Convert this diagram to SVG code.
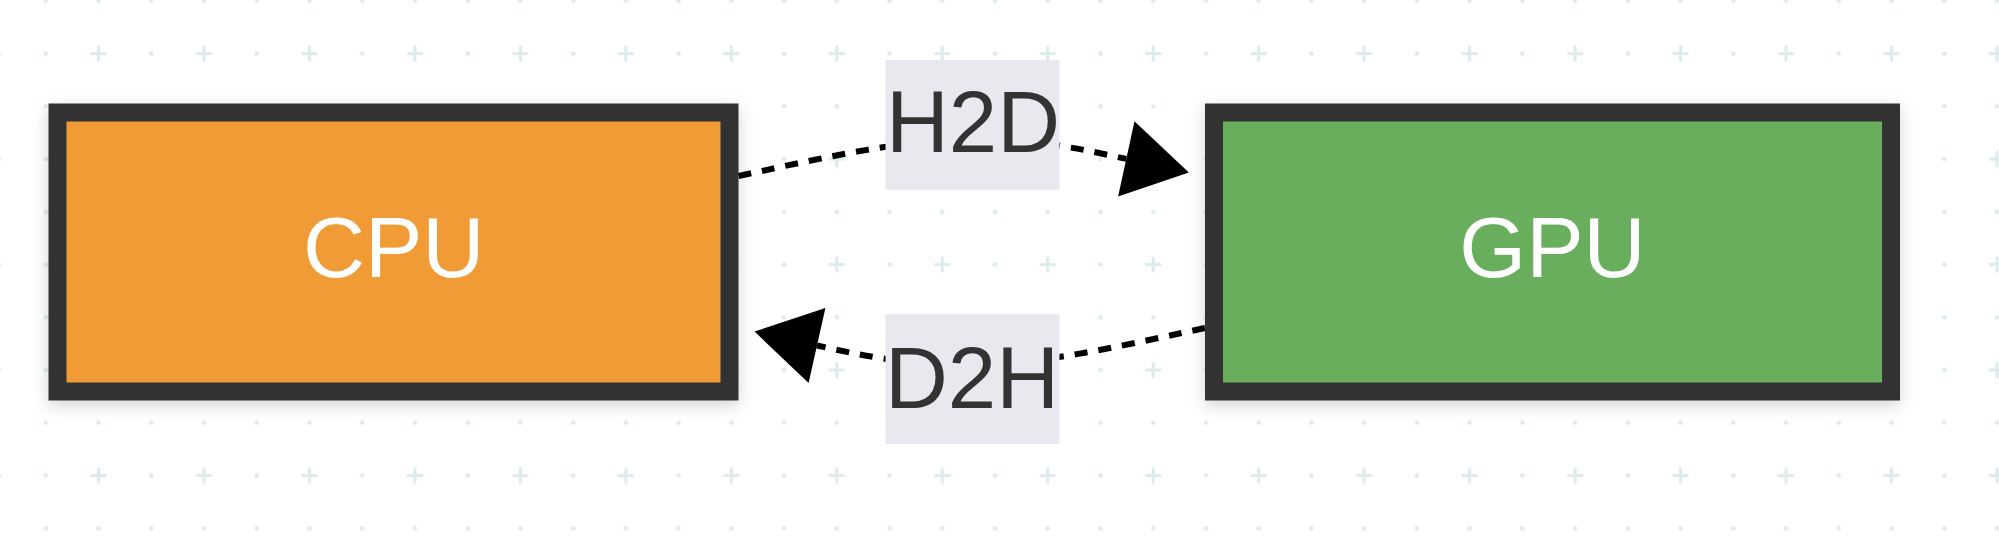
<svg xmlns="http://www.w3.org/2000/svg" width="1999" height="553" viewBox="0 0 1999 553">
<style>
.box{stroke:#333333;stroke-width:18}
.cpu{fill:#f09b36}
.gpu{fill:#67ae5b}
.ntext{font-family:"Liberation Sans",Arial,sans-serif;font-size:86px;fill:#ffffff;text-anchor:middle}
.lbg{fill:#e8e8ef}
.ltext{font-family:"Liberation Sans",Arial,sans-serif;font-size:87px;fill:#333333;text-anchor:middle}
.edge{fill:none;stroke:#000000;stroke-width:6;stroke-dasharray:13 11}
.dot{fill:#dcebeb}
.plus{stroke:#dcebeb;stroke-width:3}
</style>
<defs>
<pattern id="grid" patternUnits="userSpaceOnUse" x="19.4" y="-25.5" width="105.47" height="105.47">
<circle class="dot" cx="26.37" cy="26.37" r="2.3"/>
<circle class="dot" cx="79.1" cy="26.37" r="2.3"/>
<circle class="dot" cx="26.37" cy="79.1" r="2.3"/>
<path class="plus" d="M71.1 79.1H87.1M79.1 71.1V87.1"/>
</pattern>
<filter id="shadow" x="-10%" y="-15%" width="120%" height="135%">
<feDropShadow dx="0" dy="5" stdDeviation="8" flood-color="#000000" flood-opacity="0.17"/>
</filter>
<marker id="arrow" markerUnits="userSpaceOnUse" orient="auto" refX="0" refY="38.5" markerWidth="70" markerHeight="80" viewBox="0 0 70 80" overflow="visible">
<path d="M0 0L64 38.5L0 77z" fill="#000000"/>
</marker>
</defs>
<rect x="0" y="0" width="1999" height="553" fill="#ffffff"/>
<rect x="0" y="0" width="1999" height="553" fill="url(#grid)"/>
<g id="connectors">
<g id="edge-h2d">
<path class="edge" d="M738.5 176C800 163 900 139 972 139C1040 139 1090 151 1126.3 158.9" marker-end="url(#arrow)"/>
<rect class="lbg" x="885.5" y="60" width="174" height="130"/>
<text class="ltext" x="973" y="152">H2D</text>
</g>
<g id="edge-d2h">
<path class="edge" d="M1205 328C1143 341 1044 365 972 365C904 365 855 354 817 345.5" marker-end="url(#arrow)"/>
<rect class="lbg" x="885.5" y="314" width="174" height="130"/>
<text class="ltext" x="972" y="408">D2H</text>
</g>
</g>
<g id="node-cpu">
<rect class="box cpu" x="57.5" y="112.5" width="672" height="279" filter="url(#shadow)"/>
<text class="ntext" x="393.7" y="277">CPU</text>
</g>
<g id="node-gpu">
<rect class="box gpu" x="1214" y="112.5" width="677" height="279" filter="url(#shadow)"/>
<text class="ntext" x="1552.5" y="277">GPU</text>
</g>
</svg>
